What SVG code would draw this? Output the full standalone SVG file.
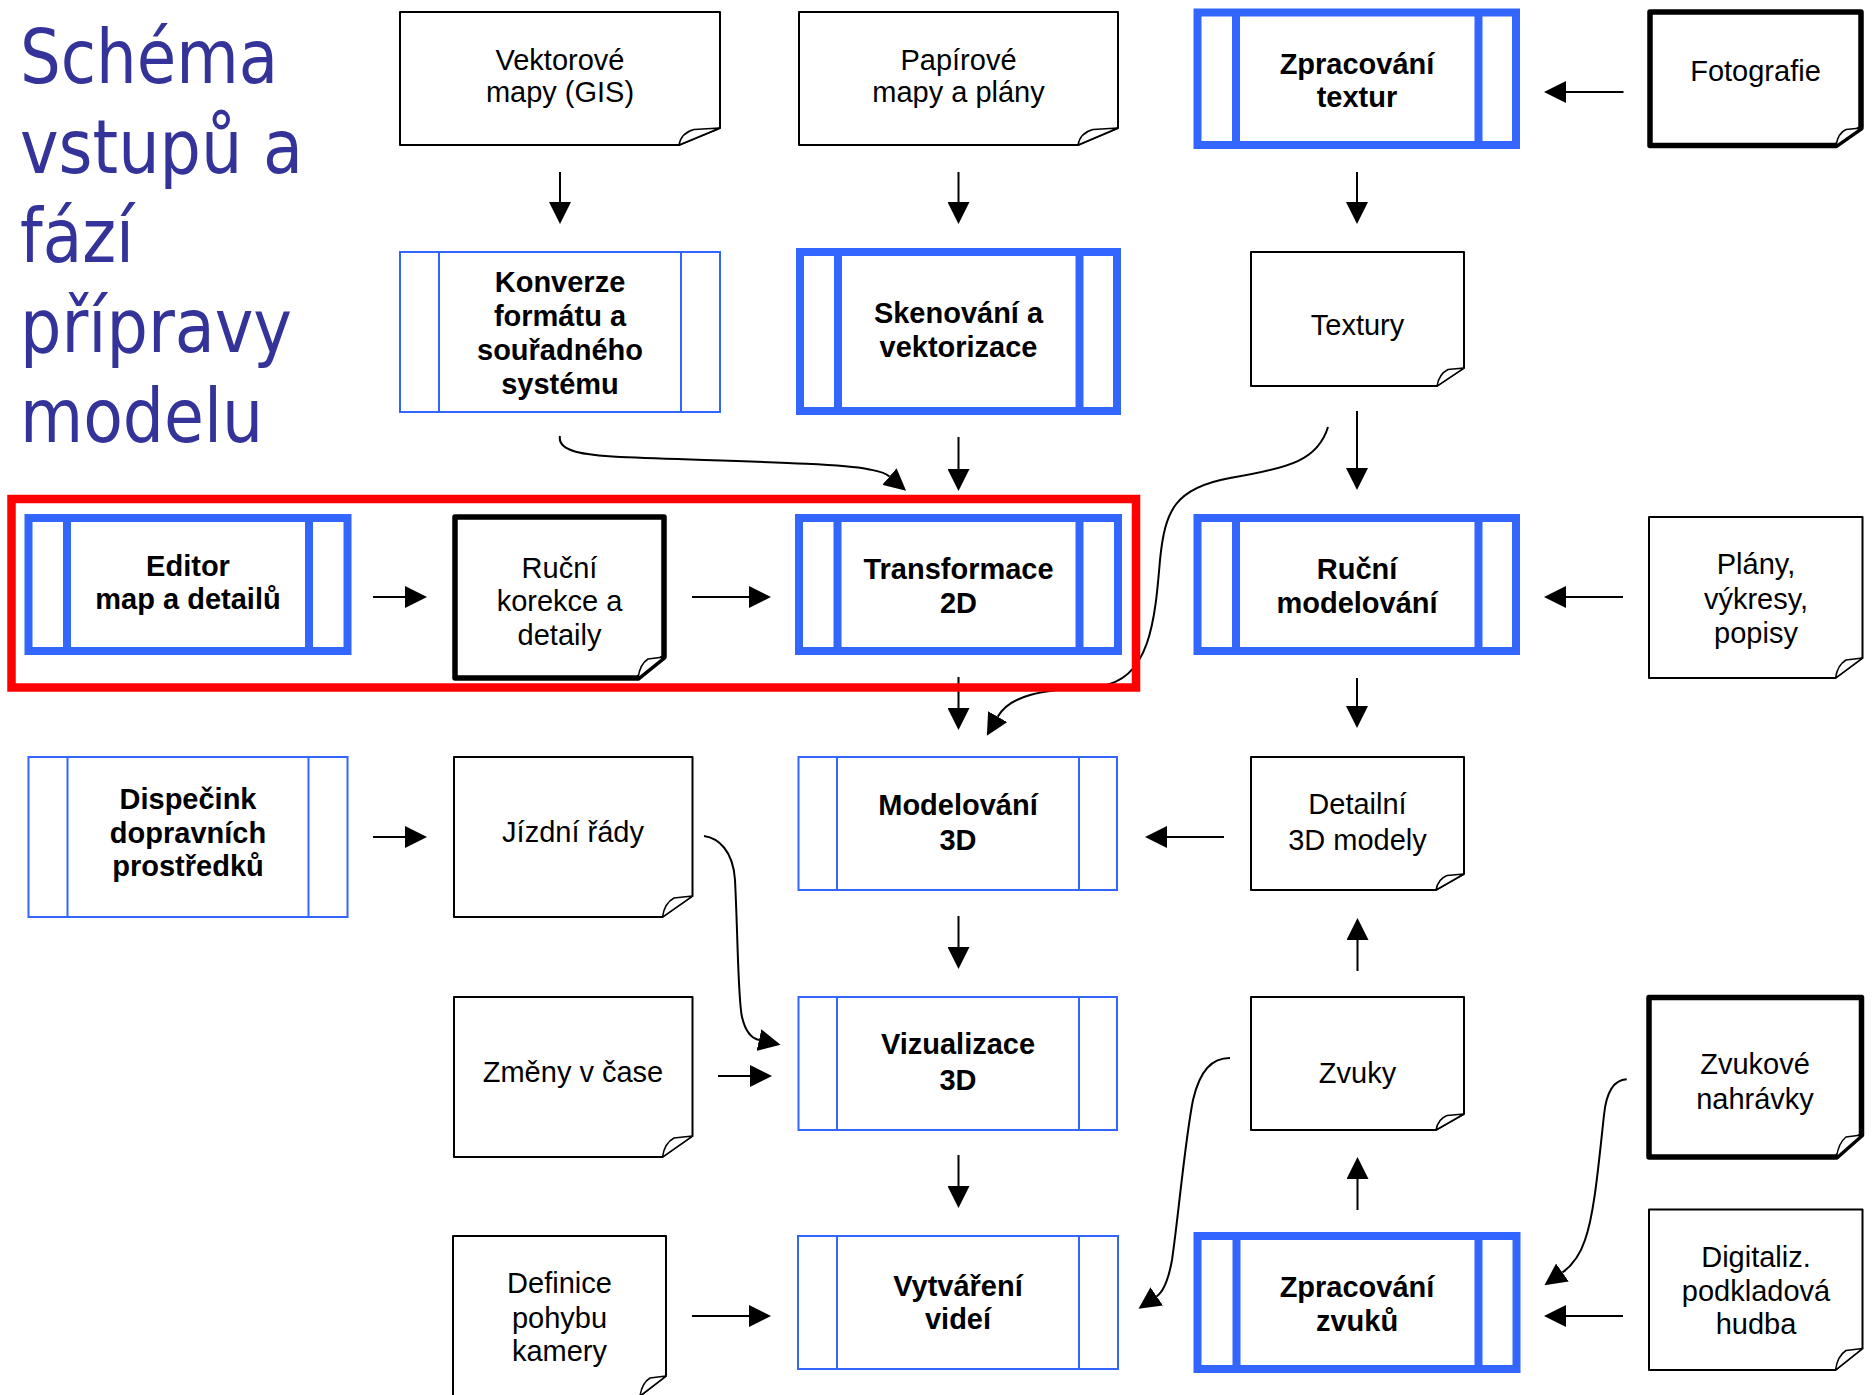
<svg xmlns="http://www.w3.org/2000/svg" width="1872" height="1395" viewBox="0 0 1872 1395">
<defs>
<style>
.doc{fill:#fff;stroke:#000;stroke-width:2;stroke-linejoin:round}
.docB{stroke-width:5.5}
.curl{fill:#fff;stroke:#000;stroke-width:1.5;stroke-linejoin:round}
.pr{fill:#fff;stroke:#3366ff;stroke-width:2}
.prB{stroke-width:8}
.pl{stroke:#3366ff;stroke-width:2}
.plB{stroke-width:8}
.lbl{font-family:"Liberation Sans",Arial,sans-serif;font-size:29px;text-anchor:middle;fill:#000}
.b{font-weight:bold}
.ttl{font-family:"DejaVu Sans Condensed","DejaVu Sans",sans-serif;font-stretch:condensed;font-size:75px;fill:#333399}
.conn{stroke:#000;stroke-width:2;fill:none;marker-end:url(#ah)}
</style>
<marker id="ah" markerUnits="userSpaceOnUse" markerWidth="22" markerHeight="22" viewBox="0 0 22 22" refX="0" refY="11" orient="auto"><path d="M0,0 L22,11 L0,22 Z" fill="#000"/></marker>
</defs>
<rect width="1872" height="1395" fill="#fff"/>

<g id="title">
<text class="ttl" x="20" y="83" textLength="258" lengthAdjust="spacingAndGlyphs">Schéma</text>
<text class="ttl" x="20" y="173" textLength="283" lengthAdjust="spacingAndGlyphs">vstupů a</text>
<text class="ttl" x="20" y="262" textLength="114" lengthAdjust="spacingAndGlyphs">fází</text>
<text class="ttl" x="20" y="352" textLength="272" lengthAdjust="spacingAndGlyphs">přípravy</text>
<text class="ttl" x="20" y="442" textLength="243" lengthAdjust="spacingAndGlyphs">modelu</text>
</g>

<g id="connectors">
<path class="conn" d="M560,172 V202"/>
<path class="conn" d="M958.5,172 V202"/>
<path class="conn" d="M1357,172 V202"/>
<path class="conn" d="M958.5,437 V469"/>
<path class="conn" d="M1357,411 V468"/>
<path class="conn" d="M958.5,677 V708"/>
<path class="conn" d="M1357,678 V706"/>
<path class="conn" d="M958.5,916 V947"/>
<path class="conn" d="M958.5,1155 V1186"/>
<path class="conn" d="M1357.5,971 V940"/>
<path class="conn" d="M1357.5,1210 V1179"/>
<path class="conn" d="M373,597 H405"/>
<path class="conn" d="M692,597 H749"/>
<path class="conn" d="M373,837 H405"/>
<path class="conn" d="M718,1076 H750"/>
<path class="conn" d="M692,1316 H749"/>
<path class="conn" d="M1623.5,92 H1566"/>
<path class="conn" d="M1623,597 H1566"/>
<path class="conn" d="M1224,837 H1167"/>
<path class="conn" d="M1623,1316 H1566"/>
<path class="conn" d="M560,436 C557,452 585,455 620,457 C720,461 840,463 867,469 C876,471 883,471 889.4,476.5"/>
<path class="conn" d="M1328,427 C1318,460 1290,468 1230,478 C1175,488 1165,510 1160,560 C1155,620 1150,680 1100,686 C1040,690 1010,695 997.7,716.7"/>
<path class="conn" d="M704,836 C718,838 733,850 735,880 C738,940 738,1000 742,1017 C745,1030 750,1038 759,1040"/>
<path class="conn" d="M1230,1058 C1212,1058 1200,1070 1193,1100 C1185,1140 1178,1220 1172,1260 C1168,1282 1163,1292 1156.7,1296.3"/>
<path class="conn" d="M1626.7,1079.3 C1612,1080 1606,1095 1604,1115 C1598,1170 1594,1215 1585,1240 C1580,1255 1573,1265 1562.4,1272.5"/>
</g>

<rect id="highlight" x="11.5" y="499" width="1124.5" height="188.5" fill="none" stroke="#ff0000" stroke-width="8.5"/>

<g id="vektorove">
<path class="doc" d="M400,12 H720 V128 L679,145 H400 Z"/>
<path class="curl" d="M679,145 Q681,133 694,129.5 L720,128 Z"/>
<text class="lbl" x="560" y="70">Vektorové</text>
<text class="lbl" x="560" y="102">mapy (GIS)</text>
</g>
<g id="papirove">
<path class="doc" d="M799,12 H1118 V128 L1078,145 H799 Z"/>
<path class="curl" d="M1078,145 Q1080,133 1093,129.5 L1118,128 Z"/>
<text class="lbl" x="958.5" y="70">Papírové</text>
<text class="lbl" x="958.5" y="102">mapy a plány</text>
</g>
<g id="zpracovani-textur">
<rect class="pr prB" x="1197.5" y="12.5" width="318.5" height="132.5"/>
<line class="pl plB" x1="1236" y1="12.5" x2="1236" y2="145"/>
<line class="pl plB" x1="1478.5" y1="12.5" x2="1478.5" y2="145"/>
<text class="lbl b" x="1357" y="73.5">Zpracování</text>
<text class="lbl b" x="1357" y="107">textur</text>
</g>
<g id="fotografie">
<path class="doc docB" d="M1650,12 H1861 V128 L1836,145.5 H1650 Z"/>
<path class="curl" d="M1836,145.5 Q1838,133 1846,129.5 L1861,128 Z"/>
<text class="lbl" x="1755.5" y="81">Fotografie</text>
</g>
<g id="konverze">
<rect class="pr" x="400" y="252" width="320" height="160"/>
<line class="pl" x1="439" y1="252" x2="439" y2="412"/>
<line class="pl" x1="681" y1="252" x2="681" y2="412"/>
<text class="lbl b" x="560" y="292">Konverze</text>
<text class="lbl b" x="560" y="326">formátu a</text>
<text class="lbl b" x="560" y="360">souřadného</text>
<text class="lbl b" x="560" y="394">systému</text>
</g>
<g id="skenovani">
<rect class="pr prB" x="800" y="252" width="317" height="159"/>
<line class="pl plB" x1="838" y1="252" x2="838" y2="411"/>
<line class="pl plB" x1="1079.5" y1="252" x2="1079.5" y2="411"/>
<text class="lbl b" x="958.5" y="322.5">Skenování a</text>
<text class="lbl b" x="958.5" y="356.5">vektorizace</text>
</g>
<g id="textury">
<path class="doc" d="M1251,252 H1464 V368 L1437,386 H1251 Z"/>
<path class="curl" d="M1437,386 Q1439,374 1448,369.5 L1464,368 Z"/>
<text class="lbl" x="1357.5" y="335">Textury</text>
</g>
<g id="editor">
<rect class="pr prB" x="28.5" y="518" width="319" height="133"/>
<line class="pl plB" x1="67" y1="518" x2="67" y2="651"/>
<line class="pl plB" x1="309" y1="518" x2="309" y2="651"/>
<text class="lbl b" x="188" y="576">Editor</text>
<text class="lbl b" x="188" y="608.5">map a detailů</text>
</g>
<g id="rucni-korekce">
<path class="doc docB" d="M455,517 H664 V657 L638,678 H455 Z"/>
<path class="curl" d="M638,678 Q640,664 648,659 L664,657 Z"/>
<text class="lbl" x="559.5" y="577.5">Ruční</text>
<text class="lbl" x="559.5" y="611">korekce a</text>
<text class="lbl" x="559.5" y="644.5">detaily</text>
</g>
<g id="transformace">
<rect class="pr prB" x="799" y="518" width="319" height="133"/>
<line class="pl plB" x1="837.5" y1="518" x2="837.5" y2="651"/>
<line class="pl plB" x1="1079.5" y1="518" x2="1079.5" y2="651"/>
<text class="lbl b" x="958.5" y="579">Transformace</text>
<text class="lbl b" x="958.5" y="613">2D</text>
</g>
<g id="rucni-modelovani">
<rect class="pr prB" x="1197.5" y="518" width="318.5" height="133"/>
<line class="pl plB" x1="1236" y1="518" x2="1236" y2="651"/>
<line class="pl plB" x1="1478.5" y1="518" x2="1478.5" y2="651"/>
<text class="lbl b" x="1357" y="579">Ruční</text>
<text class="lbl b" x="1357" y="613">modelování</text>
</g>
<g id="plany">
<path class="doc" d="M1649,517 H1862.5 V658 L1835.5,678 H1649 Z"/>
<path class="curl" d="M1835.5,678 Q1837.5,665 1846,660 L1862.5,658 Z"/>
<text class="lbl" x="1756" y="574">Plány,</text>
<text class="lbl" x="1756" y="608.5">výkresy,</text>
<text class="lbl" x="1756" y="643">popisy</text>
</g>
<g id="dispecink">
<rect class="pr" x="28.5" y="757" width="319" height="160"/>
<line class="pl" x1="67.5" y1="757" x2="67.5" y2="917"/>
<line class="pl" x1="308.5" y1="757" x2="308.5" y2="917"/>
<text class="lbl b" x="188" y="808.5">Dispečink</text>
<text class="lbl b" x="188" y="842.5">dopravních</text>
<text class="lbl b" x="188" y="875.5">prostředků</text>
</g>
<g id="jizdni-rady">
<path class="doc" d="M454,757 H692.5 V896 L662.5,917 H454 Z"/>
<path class="curl" d="M662.5,917 Q664.5,903 674,898 L692.5,896 Z"/>
<text class="lbl" x="573" y="842">Jízdní řády</text>
</g>
<g id="modelovani-3d">
<rect class="pr" x="798.5" y="757" width="318.5" height="133"/>
<line class="pl" x1="837" y1="757" x2="837" y2="890"/>
<line class="pl" x1="1079" y1="757" x2="1079" y2="890"/>
<text class="lbl b" x="958" y="815">Modelování</text>
<text class="lbl b" x="958" y="850">3D</text>
</g>
<g id="detailni">
<path class="doc" d="M1251,757 H1464 V874 L1436,890 H1251 Z"/>
<path class="curl" d="M1436,890 Q1438,879 1447,875.5 L1464,874 Z"/>
<text class="lbl" x="1357.5" y="814">Detailní</text>
<text class="lbl" x="1357.5" y="850">3D modely</text>
</g>
<g id="zmeny">
<path class="doc" d="M454,997 H692.5 V1136 L662.5,1157 H454 Z"/>
<path class="curl" d="M662.5,1157 Q664.5,1143 674,1138 L692.5,1136 Z"/>
<text class="lbl" x="573" y="1081.5">Změny v čase</text>
</g>
<g id="vizualizace">
<rect class="pr" x="798.5" y="997" width="318.5" height="133"/>
<line class="pl" x1="837" y1="997" x2="837" y2="1130"/>
<line class="pl" x1="1079" y1="997" x2="1079" y2="1130"/>
<text class="lbl b" x="958" y="1054">Vizualizace</text>
<text class="lbl b" x="958" y="1089.5">3D</text>
</g>
<g id="zvuky">
<path class="doc" d="M1251,997 H1464 V1114 L1436,1130 H1251 Z"/>
<path class="curl" d="M1436,1130 Q1438,1119 1447,1115.5 L1464,1114 Z"/>
<text class="lbl" x="1357.5" y="1082.5">Zvuky</text>
</g>
<g id="zvukove-nahravky">
<path class="doc docB" d="M1649,997.5 H1861.5 V1135 L1836.5,1157 H1649 Z"/>
<path class="curl" d="M1836.5,1157 Q1838.5,1143 1846,1137 L1861.5,1135 Z"/>
<text class="lbl" x="1755" y="1074">Zvukové</text>
<text class="lbl" x="1755" y="1109">nahrávky</text>
</g>
<g id="definice">
<path class="doc" d="M453,1236 H666 V1376 L640,1396 H453 Z"/>
<path class="curl" d="M640,1396 Q642,1383 650,1378 L666,1376 Z"/>
<text class="lbl" x="559.5" y="1293">Definice</text>
<text class="lbl" x="559.5" y="1327.5">pohybu</text>
<text class="lbl" x="559.5" y="1360.5">kamery</text>
</g>
<g id="vytvareni">
<rect class="pr" x="798" y="1236" width="320" height="133"/>
<line class="pl" x1="837" y1="1236" x2="837" y2="1369"/>
<line class="pl" x1="1079" y1="1236" x2="1079" y2="1369"/>
<text class="lbl b" x="958" y="1296">Vytváření</text>
<text class="lbl b" x="958" y="1329">videí</text>
</g>
<g id="zpracovani-zvuku">
<rect class="pr prB" x="1197.5" y="1236" width="319" height="133"/>
<line class="pl plB" x1="1236.5" y1="1236" x2="1236.5" y2="1369"/>
<line class="pl plB" x1="1478.5" y1="1236" x2="1478.5" y2="1369"/>
<text class="lbl b" x="1357" y="1297">Zpracování</text>
<text class="lbl b" x="1357" y="1331">zvuků</text>
</g>
<g id="digitaliz">
<path class="doc" d="M1649,1209.5 H1862.5 V1348.5 L1835.5,1370 H1649 Z"/>
<path class="curl" d="M1835.5,1370 Q1837.5,1356 1846,1350.5 L1862.5,1348.5 Z"/>
<text class="lbl" x="1756" y="1267">Digitaliz.</text>
<text class="lbl" x="1756" y="1300.5">podkladová</text>
<text class="lbl" x="1756" y="1334">hudba</text>
</g>
</svg>
